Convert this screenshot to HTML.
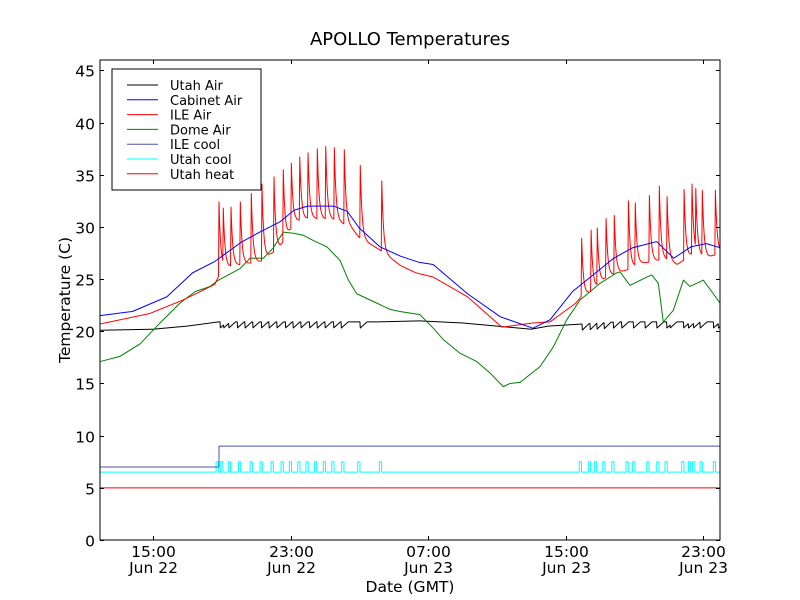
<!DOCTYPE html>
<html><head><meta charset="utf-8"><style>
body{margin:0;background:#fff;}
svg{display:block;font-family:"DejaVu Sans","Liberation Sans",sans-serif;}
</style></head><body>
<svg id="chart" width="800" height="600" viewBox="0 0 800 600">
<rect x="0" y="0" width="800" height="600" fill="#fff"/>
<defs><clipPath id="plotclip"><rect x="100" y="60" width="620" height="480"/></clipPath></defs>
<text x="410" y="45" font-size="18" text-anchor="middle">APOLLO Temperatures</text>
<g id="series" clip-path="url(#plotclip)"></g>
<rect x="100" y="60" width="620" height="480" fill="none" stroke="#000" stroke-width="1"/>
<g id="axes"></g>
<text x="410" y="592" font-size="15.5" text-anchor="middle">Date (GMT)</text>
<text x="70" y="300" font-size="15.5" text-anchor="middle" transform="rotate(-90 70 300)">Temperature (C)</text>
<g id="legend">
<rect x="112" y="69" width="149" height="121" fill="#fff" stroke="#000" stroke-width="1"/>
</g>
</svg>
<script>
// ---- data (time in hours since 12:00 Jun 22 GMT, temperature in C) ----
const xTickHours = [3, 11, 19, 27, 35];
const xTickTimes = ["15:00", "23:00", "07:00", "15:00", "23:00"];
const xTickDates = ["Jun 22", "Jun 22", "Jun 23", "Jun 23", "Jun 23"];
const yTicks = [0, 5, 10, 15, 20, 25, 30, 35, 40, 45];
const legendNames = ["Utah Air", "Cabinet Air", "ILE Air", "Dome Air", "ILE cool", "Utah cool", "Utah heat"];
const legendColors = ["#000000", "#0000ff", "#ff0000", "#008000", "#5050a0", "#00ffff", "#ff0000"];

const cabinetT = [-0.08,1.8,3.8,5.3,6.6,8.1,9.2,10.4,11.2,12,13.5,14.3,15,16.2,17.4,18.5,19.3,21.3,23.2,25.1,26.1,27.4,28.6,29.8,30.9,32.3,33.3,34.3,35.2,36];
const cabinetV = [21.5,21.9,23.3,25.6,26.7,28.5,29.5,30.5,31.6,32,32,31.5,29.9,28.1,27.2,26.6,26.4,23.6,21.4,20.3,21.1,23.8,25.4,27,28,28.6,27,28.1,28.4,28];

const ileBaseT = [-0.08,2.8,4.75,6.6,7.0,7.8,9.3,10.4,11.3,12,13.5,14.5,15,16.2,17.4,18.3,19.3,21.3,23.3,25.1,26.1,27.6,27.9,28.5,29.4,30.6,31.4,32.8,33.5,34.4,35.3,36];
const ileBaseV = [20.7,21.7,23.0,24.5,26.0,26.3,26.7,28.1,30.5,30.8,30.7,30.0,29.0,27.8,26.3,25.6,25.2,23.3,20.4,20.8,20.9,22.7,23.3,23.8,25.2,25.9,26.5,26.9,26.4,27.4,27.1,27.5];
const ileSpikeT = [6.84,7.09,7.54,8.08,8.72,9.34,10.04,10.58,11.05,11.54,12.02,12.56,13.05,13.55,14.13,15.06,16.31,27.94,28.49,28.85,29.36,29.84,30.66,31.06,31.88,32.46,32.91,33.9,34.36,34.58,34.96,35.72];
const ileSpikeV = [32.4,31.8,31.9,32.4,33.2,34.1,34.8,35.5,36.1,36.7,37.1,37.5,37.7,37.6,37.4,35.9,34.4,28.9,29.7,29.9,30.8,31.1,32.5,32.3,33.0,33.9,32.9,33.6,34.1,33.7,33.5,33.5];

const domeT = [-0.08,1.08,2.25,3.41,4.57,5.45,6.32,6.8,8.06,8.64,9.42,10.0,10.58,11.17,11.75,12.33,13.11,13.88,14.37,14.85,16.02,16.79,17.37,18.53,19.31,19.89,20.86,21.84,22.61,23.38,23.77,24.35,25.51,26.29,27.07,27.85,29.01,29.98,30.17,30.75,31.73,32.02,32.4,32.69,33.27,33.86,34.24,35.02,35.6,35.99];
const domeV = [17.1,17.6,18.8,20.8,22.7,23.8,24.3,24.9,26.0,27.0,27.0,28.0,29.5,29.4,29.2,28.7,28.1,26.8,24.9,23.6,22.7,22.1,21.9,21.6,20.3,19.2,17.9,17.1,16.0,14.7,15.0,15.1,16.6,18.5,21.1,23.0,24.6,25.6,25.7,24.4,25.2,25.4,24.6,20.9,22.0,24.9,24.3,24.9,23.6,22.7];

const utahAirT = [-0.08,3.0,5.0,6.8,10,14.3,16,18.5,21,23,25,26,30,36];
const utahAirV = [20.1,20.2,20.5,20.9,20.9,20.9,20.9,21.0,20.8,20.5,20.2,20.5,20.9,20.9];
const utahAirDips = [6.9,7.1,7.4,7.9,8.35,8.8,9.3,9.75,10.2,10.7,11.15,11.6,12.1,12.55,13.0,13.5,13.95,15.05,27.97,28.43,28.82,29.24,29.78,30.27,30.95,31.63,32.31,32.89,33.08,33.86,34.15,34.44,34.83,35.6,35.89];

const ileCoolT = [-0.08,6.84,6.84,36];
const ileCoolV = [7.0,7.0,9.0,9.0];

const utahCoolBase = 6.5;
const utahCoolOn = 7.5;
const utahCoolPulses = [6.67,6.94,7.38,7.97,8.65,9.23,9.87,10.45,10.93,11.42,11.9,12.39,12.91,13.4,13.98,14.91,16.17,27.8,28.33,28.68,29.17,29.69,30.52,30.91,31.73,32.31,32.79,33.76,34.15,34.4,34.83,35.6];

const utahHeatT = [-0.08,36];
const utahHeatV = [5.0,5.0];

// ---- axis functions ----
const T0 = -0.08, T1 = 36;
function xs(t){ return 153 + (t - 3) * 17.1875; }
function ys(v){ return 540 - v * (480 / 46); }
function interp(T, V, t){
  if (t <= T[0]) return V[0];
  for (let i = 1; i < T.length; i++) {
    if (t <= T[i]) { const f = (t - T[i-1]) / (T[i] - T[i-1] || 1); return V[i-1] + f * (V[i] - V[i-1]); }
  }
  return V[V.length-1];
}
const NS = "http://www.w3.org/2000/svg";
const gS = document.getElementById("series");
function poly(pts, color, name){
  const p = document.createElementNS(NS, "polyline");
  p.setAttribute("points", pts.map(q => xs(q[0]).toFixed(2) + "," + ys(q[1]).toFixed(2)).join(" "));
  p.setAttribute("fill", "none");
  p.setAttribute("stroke", color);
  p.setAttribute("stroke-width", "1");
  p.setAttribute("stroke-linejoin", "round");
  
  
  gS.appendChild(p);
}

poly(utahHeatT.map((t,i)=>[t,utahHeatV[i]]), "#ff0000", "utah-heat-line");
{
  const pts = [[T0, utahCoolBase]];
  utahCoolPulses.forEach(t => { pts.push([t, utahCoolBase],[t, utahCoolOn],[t+0.13, utahCoolOn],[t+0.13, utahCoolBase]); });
  pts.push([T1, utahCoolBase]);
  poly(pts, "#00ffff", "utah-cool-line");
}
poly(ileCoolT.map((t,i)=>[t,ileCoolV[i]]), "#5050a0", "ile-cool-line");
{
  const pts = [];
  for (let t = T0; t <= T1 + 0.001; t += 0.02) {
    let v = interp(utahAirT, utahAirV, t);
    let d = 0;
    utahAirDips.forEach(td => { const dt = t - td; if (dt >= 0 && dt < 0.4) d = Math.max(d, 0.6 * (1 - dt / 0.4)); });
    pts.push([t, v - d]);
  }
  poly(pts, "#000000", "utah-air-line");
}
poly(domeT.map((t,i)=>[t,domeV[i]]), "#008000", "dome-air-line");
{
  const ts = new Set();
  for (let t = T0; t <= T1 + 0.001; t += 0.02) ts.add(+t.toFixed(3));
  ileSpikeT.forEach(s => { ts.add(s - 0.03); ts.add(s); });
  const arr = [...ts].sort((a,b)=>a-b);
  const pts = arr.map(t => {
    const b = interp(ileBaseT, ileBaseV, t);
    let add = 0;
    ileSpikeT.forEach((s, i) => {
      const amp = ileSpikeV[i] - interp(ileBaseT, ileBaseV, s);
      const dt = t - s;
      if (dt >= -0.03 && dt < 0) add = Math.max(add, amp * (1 + dt / 0.03));
      else if (dt >= 0) add = Math.max(add, amp * Math.exp(-dt / 0.1));
    });
    return [t, b + add];
  });
  poly(pts, "#ff0000", "ile-air-line");
}
poly(cabinetT.map((t,i)=>[t,cabinetV[i]]), "#0000ff", "cabinet-air-line");

// ---- axes ----
const gA = document.getElementById("axes");
function line(x1,y1,x2,y2,name){
  const l = document.createElementNS(NS, "line");
  l.setAttribute("x1",x1); l.setAttribute("y1",y1); l.setAttribute("x2",x2); l.setAttribute("y2",y2);
  l.setAttribute("stroke","#000"); l.setAttribute("stroke-width","1");
  
  
  gA.appendChild(l);
}
function text(x,y,s,anchor,name){
  const t = document.createElementNS(NS, "text");
  t.setAttribute("x",x); t.setAttribute("y",y); t.setAttribute("font-size","15.5");
  t.setAttribute("text-anchor",anchor); t.textContent = s;
  
  
  gA.appendChild(t);
}
yTicks.forEach(v => {
  const y = Math.round(ys(v)) + 0.5;
  line(100, y, 104, y, "y-tick");
  line(716, y, 720, y, "y-tick-right");
  text(95, y + 6, String(v), "end", "y-tick-label");
});
xTickHours.forEach((h, i) => {
  const x = Math.round(xs(h)) + 0.5;
  line(x, 540, x, 536, "x-tick");
  line(x, 60, x, 64, "x-tick-top");
  text(x, 557, xTickTimes[i], "middle", "x-tick-time-label");
  text(x, 573, xTickDates[i], "middle", "x-tick-date-label");
});

// ---- legend ----
const gL = document.getElementById("legend");
legendNames.forEach((n, i) => {
  const y = 85 + i * 14.8;
  const g = document.createElementNS(NS, "g");
  
  
  const l = document.createElementNS(NS, "line");
  l.setAttribute("x1",127); l.setAttribute("x2",158); l.setAttribute("y1",y); l.setAttribute("y2",y);
  l.setAttribute("stroke", legendColors[i]); l.setAttribute("stroke-width","1");
  g.appendChild(l);
  const t = document.createElementNS(NS, "text");
  t.setAttribute("x",170); t.setAttribute("y",y+5); t.setAttribute("font-size","13");
  t.textContent = n;
  g.appendChild(t);
  gL.appendChild(g);
});
</script>
</body></html>
